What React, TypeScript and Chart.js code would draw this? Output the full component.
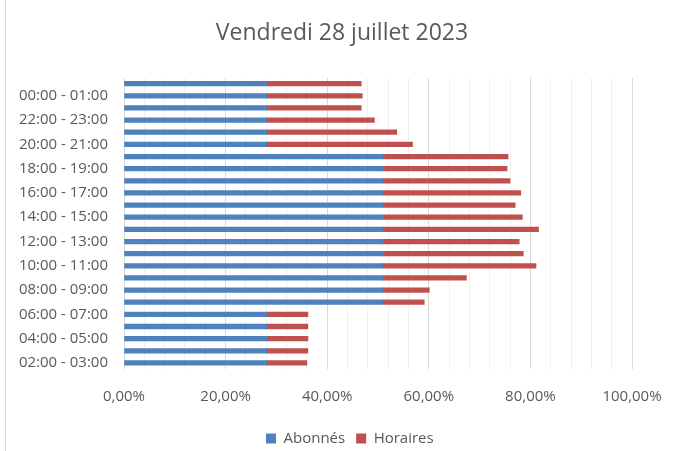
import { useEffect, useRef } from 'react';
import { Chart, registerables } from 'chart.js';

Chart.register(...registerables);

const TITLE = 'Vendredi 28 juillet 2023';

// Categories, listed top to bottom as displayed
const categories = [
  '01:00 - 02:00', '00:00 - 01:00', '23:00 - 00:00', '22:00 - 23:00',
  '21:00 - 22:00', '20:00 - 21:00', '19:00 - 20:00', '18:00 - 19:00',
  '17:00 - 18:00', '16:00 - 17:00', '15:00 - 16:00', '14:00 - 15:00',
  '13:00 - 14:00', '12:00 - 13:00', '11:00 - 12:00', '10:00 - 11:00',
  '09:00 - 10:00', '08:00 - 09:00', '07:00 - 08:00', '06:00 - 07:00',
  '05:00 - 06:00', '04:00 - 05:00', '03:00 - 04:00', '02:00 - 03:00',
];

// Series values (percent)
const abonnes = [
  28.1, 28.1, 28.1, 28.1, 28.1, 28.1,
  51.0, 51.0, 51.0, 51.0, 51.0, 51.0, 51.0, 51.0, 51.0, 51.0, 51.0, 51.0, 51.0,
  28.1, 28.1, 28.1, 28.1, 28.1,
];
const horaires = [
  18.6, 18.8, 18.6, 21.2, 25.6, 28.7,
  24.6, 24.4, 25.0, 27.1, 26.0, 27.4, 30.6, 26.8, 27.6, 30.1, 16.4, 9.1, 8.1,
  8.1, 8.1, 8.1, 8.1, 7.9,
];

const seriesNames = ['Abonnés', 'Horaires'];
const xMin = 0;
const xMax = 100;
const xMinorStep = 4;
const xLabelStep = 20;

const FONT = "'Open Sans', 'Noto Sans', sans-serif";
const TEXT = '#595959';
const LEGEND_FIRST_BOX_X = 266;
const TITLE_CENTER_X = 342;

const blockShift = {
  id: 'blockShift',
  afterLayout(chart: any) {
    const L: any = chart.legend;
    if (L && L.lineWidths) {
      const P = L.options.labels.padding;
      const lw = L.lineWidths[0];
      const S = 2 * LEGEND_FIRST_BOX_X + lw - P;
      const w = L.right - L.left;
      L.left = (S - w) / 2;
      L.right = (S + w) / 2;
    }
    const T: any = chart.titleBlock;
    if (T) {
      const w = T.right - T.left;
      T.left = TITLE_CENTER_X - w / 2;
      T.right = TITLE_CENTER_X + w / 2;
    }
  },
};

export default function App() {
  const ref = useRef<HTMLCanvasElement | null>(null);

  useEffect(() => {
    if (!ref.current) return;
    Chart.defaults.font.family = FONT;
    Chart.defaults.color = TEXT;
    const legendPad = 11;
    const legendMaxH = 31;
    const chart = new Chart(ref.current, {
      type: 'bar',
      data: {
        labels: categories,
        datasets: [
          {
            label: seriesNames[0],
            data: abonnes,
            backgroundColor: '#4f81bd',
            barThickness: 4.6,
          },
          {
            label: seriesNames[1],
            data: horaires,
            backgroundColor: '#c0504d',
            barThickness: 4.6,
          },
        ],
      },
      options: {
        indexAxis: 'y',
        animation: false,
        responsive: false,
        maintainAspectRatio: false,
        layout: { padding: { left: 0, right: 45, top: 0, bottom: 0 } },
        scales: {
          x: {
            stacked: true,
            min: xMin,
            max: xMax,
            afterFit: (scale: any) => {
              scale.height = 451 - legendMaxH - 369;
              scale.paddingLeft = 0;
              scale.paddingRight = 0;
            },
            ticks: {
              stepSize: xMinorStep,
              autoSkip: false,
              maxRotation: 0,
              padding: 19,
              color: TEXT,
              font: { size: 15, family: FONT },
              callback: (v: any) => {
                const n = Math.round(Number(v));
                return n % xLabelStep === 0 ? n.toFixed(2).replace('.', ',') + '%' : '';
              },
            },
            grid: {
              drawTicks: false,
              color: (ctx: any) => {
                const n = Math.round(Number(ctx.tick?.value));
                return n % xLabelStep === 0 ? '#d9d9d9' : '#f0f0f0';
              },
              lineWidth: 1,
            },
            border: { display: false },
          },
          y: {
            stacked: true,
            afterFit: (scale: any) => {
              scale.width = 124;
            },
            ticks: {
              autoSkip: false,
              padding: 16,
              color: TEXT,
              font: { size: 15, family: FONT },
              callback: (_v: any, i: number) => (i % 2 === 1 ? categories[i] : ''),
            },
            grid: { display: false, drawTicks: false },
            border: { display: false },
          },
        },
        plugins: {
          title: {
            display: true,
            text: TITLE,
            color: TEXT,
            font: { size: 23, weight: 'normal', family: FONT },
            padding: { top: 20, bottom: 30 },
          },
          legend: {
            position: 'bottom',
            maxHeight: legendMaxH,
            labels: {
              boxWidth: 10,
              boxHeight: 10,
              padding: legendPad,
              color: TEXT,
              font: { size: 15, family: FONT },
            },
          },
          tooltip: { enabled: false },
        },
      },
      plugins: [blockShift],
    } as any);
    return () => chart.destroy();
  }, []);

  return (
    <div style={{ position: 'fixed', left: 0, top: 0, width: 677, height: 451, background: '#fff' }}>
      <canvas ref={ref} width={677} height={451} style={{ display: 'block' }} />
      <div style={{ position: 'absolute', left: 5, top: 0, width: 1, height: 451, background: '#d9d9d9' }} />
    </div>
  );
}
